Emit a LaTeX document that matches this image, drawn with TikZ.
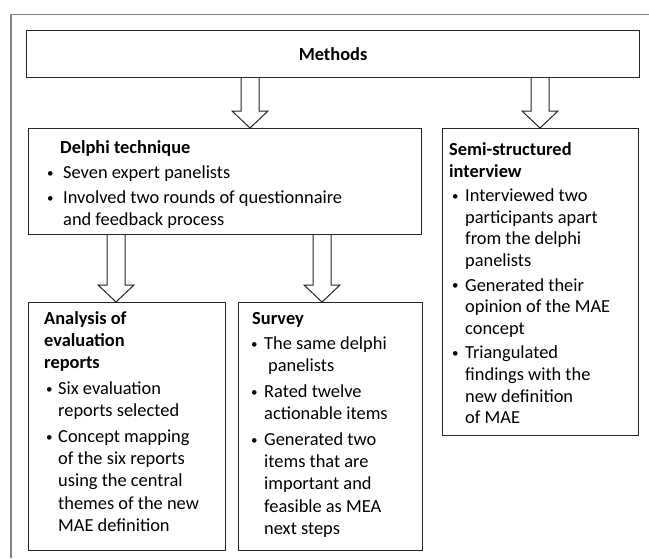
\documentclass[tikz,border=0pt]{standalone}
\usepackage{fontspec}
\setmainfont{Carlito}
\usetikzlibrary{calc}
\tikzset{
  box/.style={draw=black!85, line width=1.1pt, inner sep=0pt, anchor=north west},
  txt/.style={inner sep=0pt, anchor=base west},
  fat/.style={draw=black!85, line width=1pt, fill=white, line join=miter},
  frameline/.style={draw=black!50, line width=1.3pt}
}
\newcommand\fatarrow[3]{%
  \path (#2.south -| #1) coordinate (#1s) (#3.north -| #1) coordinate (#1t);
  \draw[fat] ($(#1s)+(-9,0)$) -- ($(#1t)+(-9,-17)$) -- ($(#1t)+(-18,-17)$) -- (#1t)
     -- ($(#1t)+(18,-17)$) -- ($(#1t)+(9,-17)$) -- ($(#1s)+(9,0)$);}
\newcommand\smallbullet{\raisebox{1.2pt}{\fontsize{13}{13}\selectfont •}}
\newcommand\boxtext[5]{% #1 title indent, #2 bullet indent, #3 bullet box width, #4 baselineskip, #5 text
  \parbox[t]{400pt}{\raggedright\fontsize{18.4}{#4}\selectfont
    \def\T{\hspace*{#1}}%
    \def\B{\hspace*{#2}\makebox[#3][l]{\smallbullet}}%
    \def\C{\hspace*{\dimexpr#2+#3\relax}}%
    #5}}
\begin{document}
\begin{tikzpicture}[x=1pt,y=-1pt]
\useasboundingbox (0,0) rectangle (649,558);
\draw[frameline] (649,14.3) -- (11,14.3) -- (11,558);

\node[box, minimum width=613pt, minimum height=47pt] (methods) at (26,30) {};
\node[font=\bfseries\fontsize{18.4}{22}\selectfont, inner sep=0pt] (methodsT) at (methods.center) {Methods};

\node[box, minimum width=393pt, minimum height=106pt] (delphi) at (28,128) {};
\node[box, minimum width=196pt, minimum height=307pt] (semi) at (442,128) {};
\node[box, minimum width=197pt, minimum height=248pt] (analysis) at (28,302) {};
\node[box, minimum width=184pt, minimum height=248pt] (survey) at (238,302) {};

\coordinate (aa) at (250,0);
\coordinate (ab) at (540,0);
\coordinate (ac) at (116,0);
\coordinate (ad) at (322,0);
\fatarrow{aa}{methods}{delphi}
\fatarrow{ab}{methods}{semi}
\fatarrow{ac}{delphi}{analysis}
\fatarrow{ad}{delphi}{survey}

\node[txt] (delphiT) at (47,153.5) {\boxtext{13pt}{0pt}{16pt}{22}{%
\T\textbf{Delphi technique}\\[3pt]
\B Seven expert panelists\\[3pt]
\B Involved two rounds of questionnaire\\
\C and feedback process}};

\node[txt] (analysisT) at (44,324.5) {\boxtext{0pt}{2pt}{12pt}{22.2}{%
\T\textbf{Analysis of}\\
\T\textbf{evaluation}\\
\T\textbf{reports}\\[3.5pt]
\B Six evaluation\\
\C reports selected\\[3.5pt]
\B Concept mapping\\
\C of the six reports\\
\C using the central\\
\C themes of the new\\
\C MAE definition}};

\node[txt] (surveyT) at (251,324.5) {\boxtext{1pt}{0pt}{13pt}{22.2}{%
\T\textbf{Survey}\\[3pt]
\B The same delphi\\
\C\hspace*{4pt}panelists\\[3.5pt]
\B Rated twelve\\
\C actionable items\\[3.5pt]
\B Generated two\\
\C items that are\\
\C important and\\
\C feasible as MEA\\
\C next steps}};

\node[txt] (semiT) at (448,155.5) {\boxtext{1pt}{4pt}{13pt}{21.6}{%
\T\textbf{Semi-structured}\\
\T\textbf{interview}\\[3pt]
\B Interviewed two\\
\C participants apart\\
\C from the delphi\\
\C panelists\\[3pt]
\B Generated their\\
\C opinion of the MAE\\
\C concept\\[3pt]
\B Triangulated\\
\C findings with the\\
\C new definition\\
\C of MAE}};
\end{tikzpicture}
\end{document}
